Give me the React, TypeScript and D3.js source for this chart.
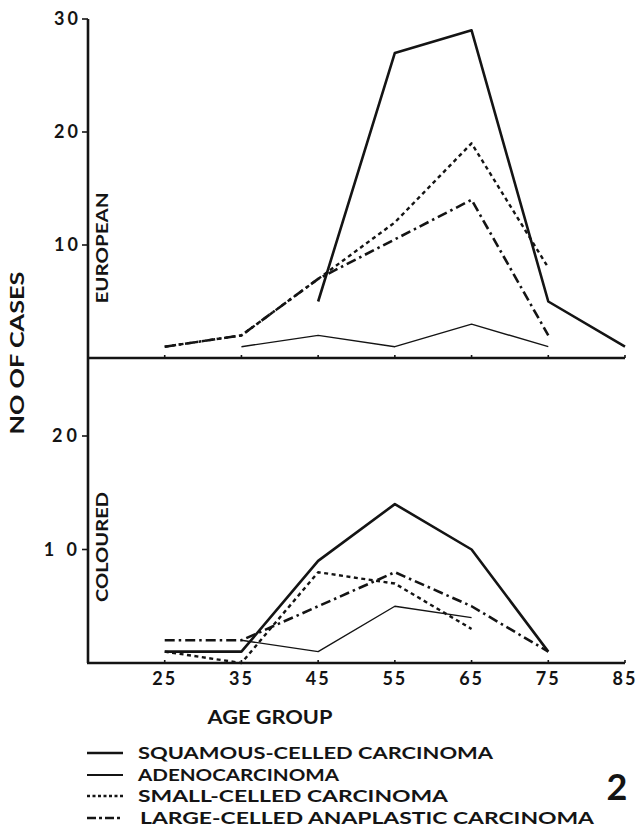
import React from "react"
import { scaleLinear, line } from "d3"

// age groups on the x axis
const ages = [25, 35, 45, 55, 65, 75, 85]
const ageLabels = ["25", "35", "45", "55", "65", "75", "85"]

// European cases per age group (null = no point)
const euroSquamous = [null, null, 5, 27, 29, 5, 1]
const euroAdeno = [null, 1, 2, 1, 3, 1, null]
const euroSmall = [1, 2, 7, 12, 19, 8, null]
const euroLarge = [1, 2, 7, 10.5, 14, 2, null]

// Coloured cases per age group
const colSquamous = [1, 1, 9, 14, 10, 1, null]
const colAdeno = [null, 2, 1, 5, 4, null, null]
const colSmall = [1, 0, 8, 7, 3, null, null]
const colLarge = [2, 2, 5, 8, 5, 1, null]

const euroTicks = [10, 20, 30]
const colTicks = [10, 20]

const legendLabels = [
	"SQUAMOUS-CELLED CARCINOMA",
	"ADENOCARCINOMA",
	"SMALL-CELLED CARCINOMA",
	"LARGE-CELLED ANAPLASTIC CARCINOMA",
]

/** line styles, same order as the legend */
const styles = [
	{ width: 2.6, dash: undefined },
	{ width: 1.4, dash: undefined },
	{ width: 2.4, dash: "4 3.5" },
	{ width: 2.6, dash: "10 4 2.5 4" },
]

const ink = "#141414"
const font = "Lato, 'DejaVu Sans', sans-serif"

export default function App() {
	const width = 636
	const height = 828

	/** plot frame */
	const left = 88
	const right = 625
	const euroBase = 358
	const colBase = 663

	const x = scaleLinear().domain([15, 85]).range([left, right])
	const yEuro = scaleLinear().domain([0, 30]).range([euroBase, 19])
	const yCol = scaleLinear().domain([0, 20]).range([colBase, 436])

	const makeLine = (y: any) =>
		line<number | null>()
			.defined(d => d !== null)
			.x((d, i) => x(ages[i]))
			.y(d => y(d as number))

	const euroSeries = [euroSquamous, euroAdeno, euroSmall, euroLarge]
	const colSeries = [colSquamous, colAdeno, colSmall, colLarge]

	const euroLine = makeLine(yEuro)
	const colLine = makeLine(yCol)

	const legendY = [753, 775, 796, 818]
	const legendLen = [355, 201, 310, 454]

	return (
		<svg width={width} height={height} style={{ position: "absolute", left: 0, top: 0, background: "#fff" }}
			fontFamily={font} fontWeight={700} fill={ink}>
			{/* y axis */}
			<line x1={left} x2={left} y1={yEuro(30)} y2={colBase} stroke={ink} strokeWidth={2.6} />
			{/* baselines */}
			<line x1={left} x2={right} y1={euroBase} y2={euroBase} stroke={ink} strokeWidth={2.4} />
			<line x1={left - 1} x2={right} y1={colBase} y2={colBase} stroke={ink} strokeWidth={2.6} />

			{/* age ticks on both baselines */}
			{ages.map(a => (
				<g key={a}>
					<line x1={x(a)} x2={x(a)} y1={euroBase} y2={euroBase - 3} stroke={ink} strokeWidth={1.6} />
					<line x1={x(a)} x2={x(a)} y1={colBase} y2={colBase - 3} stroke={ink} strokeWidth={1.6} />
				</g>
			))}

			{/* y ticks */}
			{euroTicks.map(t => (
				<g key={"e" + t}>
					<line x1={left - 6} x2={left} y1={yEuro(t)} y2={yEuro(t)} stroke={ink} strokeWidth={1.6} />
					<text x={left - 7} y={yEuro(t)} dy="0.36em" textAnchor="end" fontSize={18} letterSpacing={3}>{t}</text>
				</g>
			))}
			{colTicks.map(t => (
				<g key={"c" + t}>
					<line x1={left - 6} x2={left} y1={yCol(t)} y2={yCol(t)} stroke={ink} strokeWidth={1.6} />
					<text x={left - 7} y={yCol(t)} dy="0.36em" textAnchor="end" fontSize={18} letterSpacing={4}>{t === 10 ? "1 0" : t}</text>
				</g>
			))}

			{/* x labels */}
			{ages.map((a, i) => (
				<text key={"x" + a} x={x(a)} y={685} textAnchor="middle" fontSize={18} letterSpacing={2}>{ageLabels[i]}</text>
			))}
			<text x={270} y={724} textAnchor="middle" fontSize={19} textLength={125} lengthAdjust="spacingAndGlyphs">AGE GROUP</text>

			{/* rotated labels */}
			<text transform="translate(24,353) rotate(-90)" textAnchor="middle" fontSize={18} textLength={163} lengthAdjust="spacingAndGlyphs">NO OF CASES</text>
			<text transform="translate(108,248) rotate(-90)" textAnchor="middle" fontSize={17} textLength={111} lengthAdjust="spacingAndGlyphs">EUROPEAN</text>
			<text transform="translate(108,547) rotate(-90)" textAnchor="middle" fontSize={17} textLength={110} lengthAdjust="spacingAndGlyphs">COLOURED</text>

			{/* series */}
			<g fill="none" stroke={ink} strokeLinejoin="round">
				{euroSeries.map((s, i) => (
					<path key={"ep" + i} d={euroLine(s) || ""} strokeWidth={styles[i].width} strokeDasharray={styles[i].dash} />
				))}
				{colSeries.map((s, i) => (
					<path key={"cp" + i} d={colLine(s) || ""} strokeWidth={styles[i].width} strokeDasharray={styles[i].dash} />
				))}
			</g>

			{/* legend */}
			{legendLabels.map((lab, i) => (
				<g key={lab}>
					<line x1={87} x2={123} y1={legendY[i]} y2={legendY[i]} stroke={ink}
						strokeWidth={i === 1 ? 2 : styles[i].width} strokeDasharray={i === 2 ? "3 2.5" : i === 3 ? "9 3 3 3" : undefined} />
					<text x={i === 3 ? 140 : 138} y={legendY[i]} dy="0.36em" fontSize={17} textLength={legendLen[i]} lengthAdjust="spacingAndGlyphs">{lab}</text>
				</g>
			))}

			<text x={617} y={800} textAnchor="middle" fontSize={36}>2</text>
		</svg>
	)
}
